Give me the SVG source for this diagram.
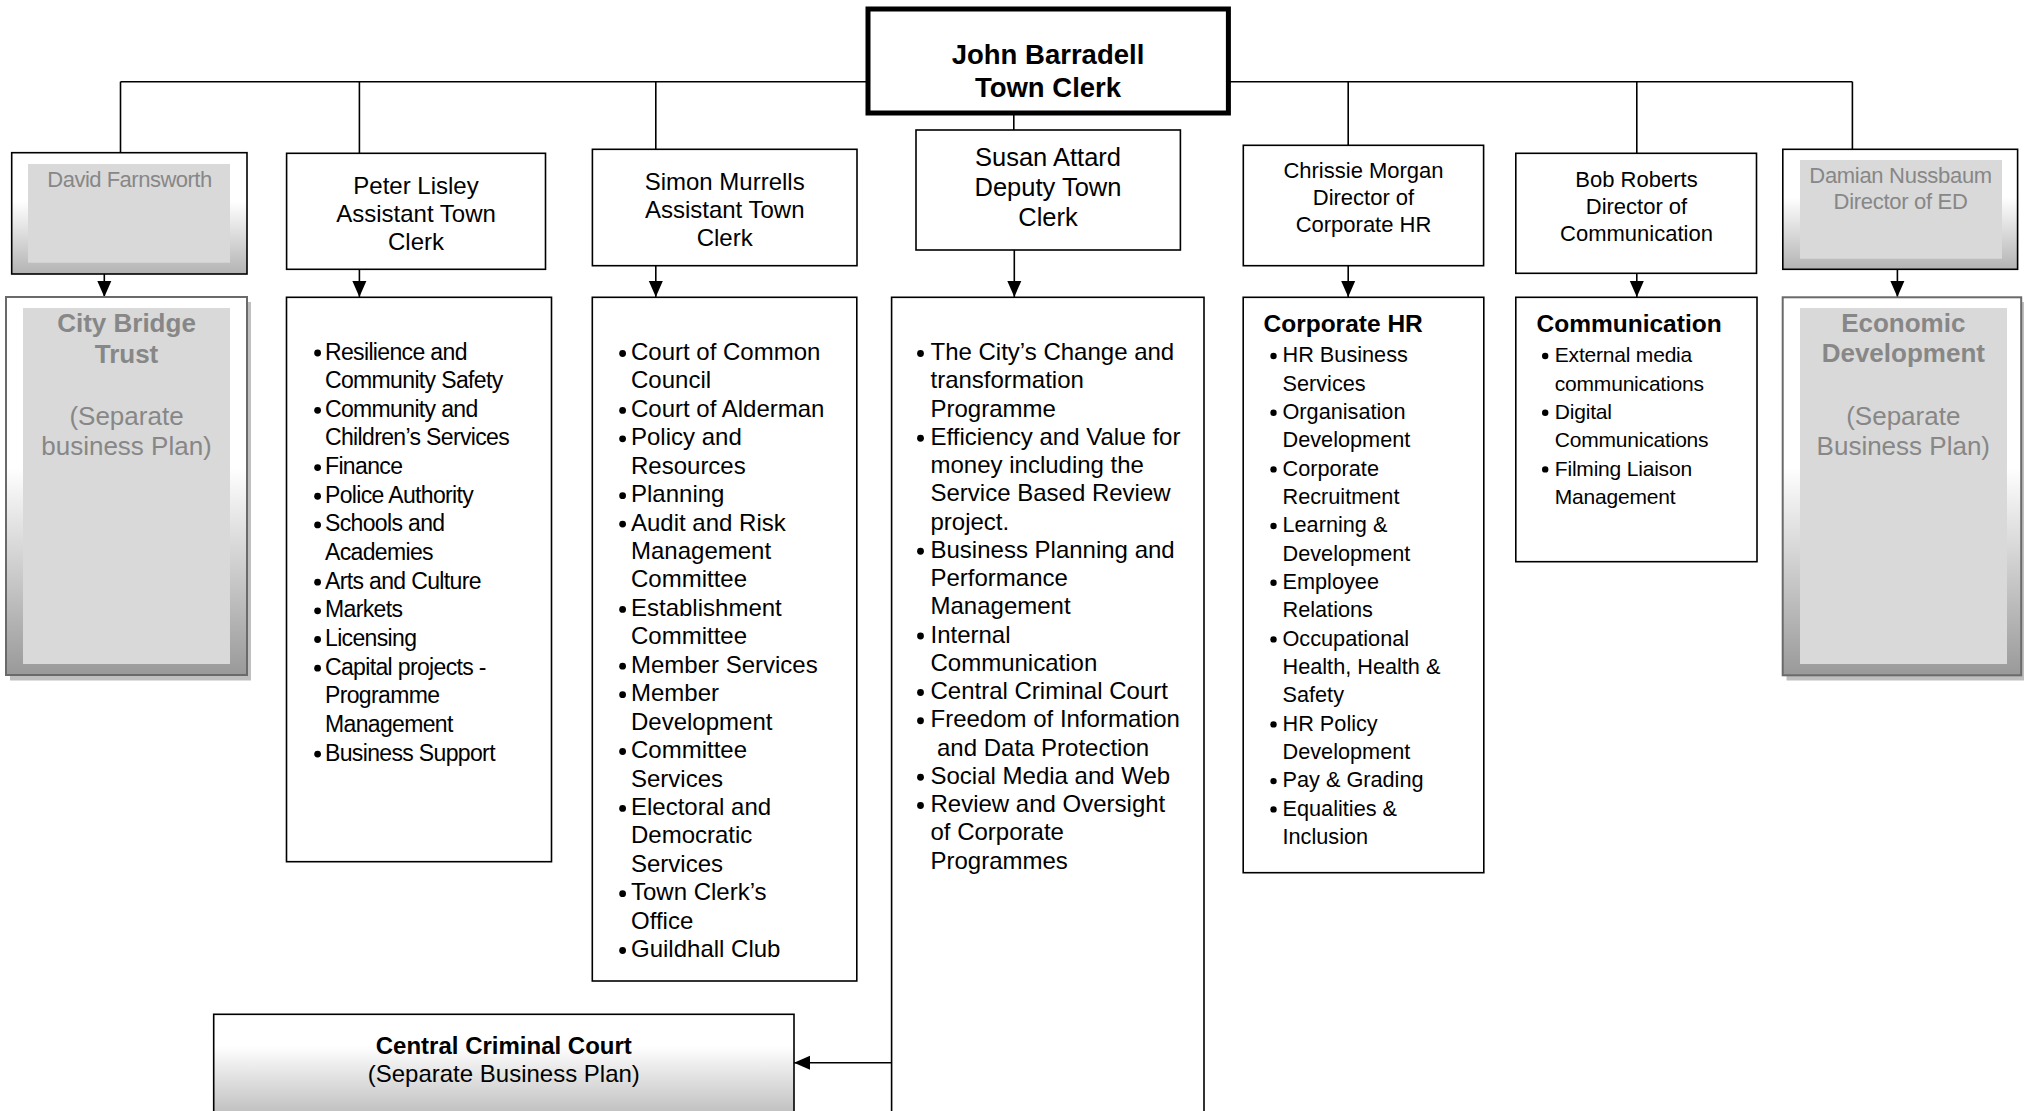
<svg xmlns="http://www.w3.org/2000/svg" width="2024" height="1111" viewBox="0 0 2024 1111">
<defs>
<linearGradient id="gHead" x1="0" y1="0" x2="0" y2="1"><stop offset="0" stop-color="#ffffff"/><stop offset="0.4" stop-color="#ffffff"/><stop offset="1" stop-color="#b3b3b3"/></linearGradient>
<linearGradient id="gTall" x1="0" y1="0" x2="0" y2="1"><stop offset="0" stop-color="#ffffff"/><stop offset="0.45" stop-color="#ffffff"/><stop offset="1" stop-color="#999999"/></linearGradient>
<linearGradient id="gCCC" x1="0" y1="0" x2="0" y2="1"><stop offset="0" stop-color="#ffffff"/><stop offset="0.25" stop-color="#ffffff"/><stop offset="1" stop-color="#a8a8a8"/></linearGradient>
<marker id="arr" markerUnits="userSpaceOnUse" markerWidth="16" markerHeight="16" viewBox="0 0 16 16" refX="16" refY="8" orient="auto"><path d="M0,1 L16,8 L0,15 Z" fill="#000"/></marker>
</defs>
<style>
text{font-family:"Liberation Sans",Arial,sans-serif;fill:#000}
.box{fill:#fff;stroke:#000;stroke-width:1.6}
.hd{font-size:24px;text-anchor:middle}
.hs{font-size:22px;text-anchor:middle}
.gray{fill:#878787}
.inner{fill:#d9d9d9;stroke:none}
.ln{stroke:#000;stroke-width:1.6;fill:none}
.pl{font-size:23px;letter-spacing:-0.65px}
.sl{font-size:24px}
.hr{font-size:21.7px}
.cm{font-size:21px;letter-spacing:-0.2px}
.bh{font-size:24.5px;font-weight:bold}
.dot{fill:#000}
</style>
<rect width="2024" height="1111" fill="#fff"/>

<g id="connectors">
<path class="ln" d="M120.5,81.7 H1852.4"/>
<path class="ln" d="M120.5,81.7 V153"/>
<path class="ln" d="M359.4,81.7 V153.3"/>
<path class="ln" d="M655.8,81.7 V149.3"/>
<path class="ln" d="M1013.8,115 V130"/>
<path class="ln" d="M1348.2,81.7 V145.3"/>
<path class="ln" d="M1636.8,81.7 V153.3"/>
<path class="ln" d="M1852.4,81.7 V149.3"/>
<path class="ln" d="M104.3,274 V297" marker-end="url(#arr)"/>
<path class="ln" d="M359.4,269.3 V297" marker-end="url(#arr)"/>
<path class="ln" d="M655.8,265.7 V297" marker-end="url(#arr)"/>
<path class="ln" d="M1014.3,250 V297" marker-end="url(#arr)"/>
<path class="ln" d="M1348.2,265.7 V297" marker-end="url(#arr)"/>
<path class="ln" d="M1636.8,273.3 V297" marker-end="url(#arr)"/>
<path class="ln" d="M1897.4,269.3 V297" marker-end="url(#arr)"/>
<path class="ln" d="M891.6,1062.7 H794" stroke-width="2.6" marker-end="url(#arr)"/>
</g>

<g id="john">
<rect x="868" y="9" width="360.4" height="104" fill="#fff" stroke="#000" stroke-width="5"/>
<text x="1048" y="64" font-size="27.5" font-weight="bold" text-anchor="middle">John Barradell</text>
<text x="1048" y="97.3" font-size="27.5" font-weight="bold" text-anchor="middle">Town Clerk</text>
</g>

<g id="david">
<rect x="11.7" y="152.7" width="235.3" height="121.3" fill="url(#gHead)" stroke="#000" stroke-width="1.6"/>
<rect class="inner" x="28" y="164" width="202" height="98.7"/>
<text class="hs gray" x="129.5" y="186.7" letter-spacing="-0.5">David Farnsworth</text>
</g>

<g id="peter">
<rect class="box" x="286.6" y="153.3" width="258.9" height="116"/>
<text class="hd" x="416" y="194.3">Peter Lisley</text>
<text class="hd" x="416" y="222.3">Assistant Town</text>
<text class="hd" x="416" y="250.3">Clerk</text>
</g>

<g id="simon">
<rect class="box" x="592.4" y="149.3" width="264.6" height="116.4"/>
<text class="hd" x="724.7" y="190">Simon Murrells</text>
<text class="hd" x="724.7" y="218">Assistant Town</text>
<text class="hd" x="724.7" y="246">Clerk</text>
</g>

<g id="susan">
<rect class="box" x="916" y="130" width="264.4" height="120"/>
<text x="1048" y="165.7" font-size="25.5" text-anchor="middle">Susan Attard</text>
<text x="1048" y="195.9" font-size="25.5" text-anchor="middle">Deputy Town</text>
<text x="1048" y="226.1" font-size="25.5" text-anchor="middle">Clerk</text>
</g>

<g id="chrissie">
<rect class="box" x="1243.3" y="145.3" width="240.3" height="120.4"/>
<text class="hs" x="1363.5" y="178.3">Chrissie Morgan</text>
<text class="hs" x="1363.5" y="205.3">Director of</text>
<text class="hs" x="1363.5" y="232.3">Corporate HR</text>
</g>

<g id="bob">
<rect class="box" x="1515.8" y="153.3" width="240.7" height="120"/>
<text class="hs" x="1636.5" y="186.7">Bob Roberts</text>
<text class="hs" x="1636.5" y="213.7">Director of</text>
<text class="hs" x="1636.5" y="240.7">Communication</text>
</g>

<g id="damian">
<rect x="1782.8" y="149.3" width="234.8" height="120" fill="url(#gHead)" stroke="#000" stroke-width="1.6"/>
<rect class="inner" x="1800" y="160" width="202" height="98.7"/>
<text class="hs gray" x="1900.6" y="182.7" letter-spacing="-0.3">Damian Nussbaum</text>
<text class="hs gray" x="1900.6" y="209.3" letter-spacing="-0.3">Director of ED</text>
</g>

<g id="city-bridge">
<rect x="10" y="302" width="241" height="378.5" fill="#bfbfbf"/>
<rect x="6" y="297" width="241" height="378" fill="url(#gTall)" stroke="#6a6a6a" stroke-width="2"/>
<rect class="inner" x="23" y="308" width="207" height="356"/>
<text class="gray" x="126.5" y="332.3" font-size="26" font-weight="bold" text-anchor="middle">City Bridge</text>
<text class="gray" x="126.5" y="362.5" font-size="26" font-weight="bold" text-anchor="middle">Trust</text>
<text class="gray" x="126.5" y="425" font-size="26" text-anchor="middle">(Separate</text>
<text class="gray" x="126.5" y="455" font-size="26" text-anchor="middle">business Plan)</text>
</g>

<g id="peter-list">
<rect class="box" x="286.5" y="297.3" width="265" height="564.4"/>
<g class="dot">
<circle cx="317.6" cy="353" r="3.4"/><circle cx="317.6" cy="410.3" r="3.4"/><circle cx="317.6" cy="467.6" r="3.4"/><circle cx="317.6" cy="496.25" r="3.4"/><circle cx="317.6" cy="524.9" r="3.4"/><circle cx="317.6" cy="582.2" r="3.4"/><circle cx="317.6" cy="610.85" r="3.4"/><circle cx="317.6" cy="639.5" r="3.4"/><circle cx="317.6" cy="668.15" r="3.4"/><circle cx="317.6" cy="754.1" r="3.4"/>
</g>
<text class="pl" x="325" y="359.5">Resilience and</text>
<text class="pl" x="325" y="388.15">Community Safety</text>
<text class="pl" x="325" y="416.8">Community and</text>
<text class="pl" x="325" y="445.45">Children’s Services</text>
<text class="pl" x="325" y="474.1">Finance</text>
<text class="pl" x="325" y="502.75">Police Authority</text>
<text class="pl" x="325" y="531.4">Schools and</text>
<text class="pl" x="325" y="560.05">Academies</text>
<text class="pl" x="325" y="588.7">Arts and Culture</text>
<text class="pl" x="325" y="617.35">Markets</text>
<text class="pl" x="325" y="646">Licensing</text>
<text class="pl" x="325" y="674.65">Capital projects -</text>
<text class="pl" x="325" y="703.3">Programme</text>
<text class="pl" x="325" y="731.95">Management</text>
<text class="pl" x="325" y="760.6">Business Support</text>
</g>

<g id="simon-list">
<rect class="box" x="592.3" y="297.3" width="264.5" height="683.7"/>
<g class="dot">
<circle cx="622.6" cy="353.5" r="3.4"/><circle cx="622.6" cy="410.4" r="3.4"/><circle cx="622.6" cy="438.8" r="3.4"/><circle cx="622.6" cy="495.7" r="3.4"/><circle cx="622.6" cy="524.1" r="3.4"/><circle cx="622.6" cy="609.4" r="3.4"/><circle cx="622.6" cy="666.2" r="3.4"/><circle cx="622.6" cy="694.7" r="3.4"/><circle cx="622.6" cy="751.5" r="3.4"/><circle cx="622.6" cy="808.4" r="3.4"/><circle cx="622.6" cy="893.7" r="3.4"/><circle cx="622.6" cy="950.5" r="3.4"/>
</g>
<text class="sl" x="631" y="360">Court of Common</text>
<text class="sl" x="631" y="388.4">Council</text>
<text class="sl" x="631" y="416.9">Court of Alderman</text>
<text class="sl" x="631" y="445.3">Policy and</text>
<text class="sl" x="631" y="473.7">Resources</text>
<text class="sl" x="631" y="502.2">Planning</text>
<text class="sl" x="631" y="530.6">Audit and Risk</text>
<text class="sl" x="631" y="559">Management</text>
<text class="sl" x="631" y="587.4">Committee</text>
<text class="sl" x="631" y="615.9">Establishment</text>
<text class="sl" x="631" y="644.3">Committee</text>
<text class="sl" x="631" y="672.7">Member Services</text>
<text class="sl" x="631" y="701.2">Member</text>
<text class="sl" x="631" y="729.6">Development</text>
<text class="sl" x="631" y="758">Committee</text>
<text class="sl" x="631" y="786.5">Services</text>
<text class="sl" x="631" y="814.9">Electoral and</text>
<text class="sl" x="631" y="843.3">Democratic</text>
<text class="sl" x="631" y="871.7">Services</text>
<text class="sl" x="631" y="900.2">Town Clerk’s</text>
<text class="sl" x="631" y="928.6">Office</text>
<text class="sl" x="631" y="957">Guildhall Club</text>
</g>

<g id="susan-list">
<rect class="box" x="891.6" y="297.3" width="312.4" height="830"/>
<g class="dot">
<circle cx="920.5" cy="353.5" r="3.4"/><circle cx="920.5" cy="438.25" r="3.4"/><circle cx="920.5" cy="551.25" r="3.4"/><circle cx="920.5" cy="636" r="3.4"/><circle cx="920.5" cy="692.5" r="3.4"/><circle cx="920.5" cy="720.75" r="3.4"/><circle cx="920.5" cy="777.25" r="3.4"/><circle cx="920.5" cy="805.5" r="3.4"/>
</g>
<text class="sl" x="930.5" y="360">The City’s Change and</text>
<text class="sl" x="930.5" y="388.25">transformation</text>
<text class="sl" x="930.5" y="416.5">Programme</text>
<text class="sl" x="930.5" y="444.75">Efficiency and Value for</text>
<text class="sl" x="930.5" y="473">money including the</text>
<text class="sl" x="930.5" y="501.25">Service Based Review</text>
<text class="sl" x="930.5" y="529.5">project.</text>
<text class="sl" x="930.5" y="557.75">Business Planning and</text>
<text class="sl" x="930.5" y="586">Performance</text>
<text class="sl" x="930.5" y="614.25">Management</text>
<text class="sl" x="930.5" y="642.5">Internal</text>
<text class="sl" x="930.5" y="670.75">Communication</text>
<text class="sl" x="930.5" y="699">Central Criminal Court</text>
<text class="sl" x="930.5" y="727.25">Freedom of Information</text>
<text class="sl" x="937" y="755.5">and Data Protection</text>
<text class="sl" x="930.5" y="783.75">Social Media and Web</text>
<text class="sl" x="930.5" y="812">Review and Oversight</text>
<text class="sl" x="930.5" y="840.25">of Corporate</text>
<text class="sl" x="930.5" y="868.5">Programmes</text>
</g>

<g id="hr-list">
<rect class="box" x="1243.2" y="297.3" width="240.6" height="575.4"/>
<text class="bh" x="1263.5" y="332.3">Corporate HR</text>
<g class="dot">
<circle cx="1273.5" cy="356" r="3.2"/><circle cx="1273.5" cy="412.7" r="3.2"/><circle cx="1273.5" cy="469.4" r="3.2"/><circle cx="1273.5" cy="526" r="3.2"/><circle cx="1273.5" cy="582.7" r="3.2"/><circle cx="1273.5" cy="639.4" r="3.2"/><circle cx="1273.5" cy="724.4" r="3.2"/><circle cx="1273.5" cy="781.1" r="3.2"/><circle cx="1273.5" cy="809.4" r="3.2"/>
</g>
<text class="hr" x="1282.5" y="362.3">HR Business</text>
<text class="hr" x="1282.5" y="390.6">Services</text>
<text class="hr" x="1282.5" y="419">Organisation</text>
<text class="hr" x="1282.5" y="447.3">Development</text>
<text class="hr" x="1282.5" y="475.7">Corporate</text>
<text class="hr" x="1282.5" y="504">Recruitment</text>
<text class="hr" x="1282.5" y="532.3">Learning &amp;</text>
<text class="hr" x="1282.5" y="560.7">Development</text>
<text class="hr" x="1282.5" y="589">Employee</text>
<text class="hr" x="1282.5" y="617.4">Relations</text>
<text class="hr" x="1282.5" y="645.7">Occupational</text>
<text class="hr" x="1282.5" y="674">Health, Health &amp;</text>
<text class="hr" x="1282.5" y="702.4">Safety</text>
<text class="hr" x="1282.5" y="730.7">HR Policy</text>
<text class="hr" x="1282.5" y="759.1">Development</text>
<text class="hr" x="1282.5" y="787.4">Pay &amp; Grading</text>
<text class="hr" x="1282.5" y="815.7">Equalities &amp;</text>
<text class="hr" x="1282.5" y="844.1">Inclusion</text>
</g>

<g id="comm-list">
<rect class="box" x="1515.8" y="297.3" width="241.2" height="264.4"/>
<text class="bh" x="1536.5" y="332.3">Communication</text>
<g class="dot">
<circle cx="1545.2" cy="356" r="3.2"/><circle cx="1545.2" cy="412.7" r="3.2"/><circle cx="1545.2" cy="469.4" r="3.2"/>
</g>
<text class="cm" x="1554.8" y="362.3">External media</text>
<text class="cm" x="1554.8" y="390.6">communications</text>
<text class="cm" x="1554.8" y="419">Digital</text>
<text class="cm" x="1554.8" y="447.3">Communications</text>
<text class="cm" x="1554.8" y="475.7">Filming Liaison</text>
<text class="cm" x="1554.8" y="504">Management</text>
</g>

<g id="economic-development">
<rect x="1786.5" y="302" width="238.5" height="378.5" fill="#bfbfbf"/>
<rect x="1782.7" y="297.3" width="238.5" height="378" fill="url(#gTall)" stroke="#6a6a6a" stroke-width="2"/>
<rect class="inner" x="1800" y="308" width="207" height="356"/>
<text class="gray" x="1903.3" y="332.3" font-size="26" font-weight="bold" text-anchor="middle">Economic</text>
<text class="gray" x="1903.3" y="361.7" font-size="26" font-weight="bold" text-anchor="middle">Development</text>
<text class="gray" x="1903.3" y="425" font-size="26" text-anchor="middle">(Separate</text>
<text class="gray" x="1903.3" y="455" font-size="26" text-anchor="middle">Business Plan)</text>
</g>

<g id="central-criminal-court">
<rect x="213.7" y="1014.3" width="580.3" height="125" fill="url(#gCCC)" stroke="#000" stroke-width="1.6"/>
<text x="503.8" y="1054" font-size="24" font-weight="bold" text-anchor="middle">Central Criminal Court</text>
<text x="503.8" y="1081.7" font-size="24" text-anchor="middle">(Separate Business Plan)</text>
</g>
</svg>
